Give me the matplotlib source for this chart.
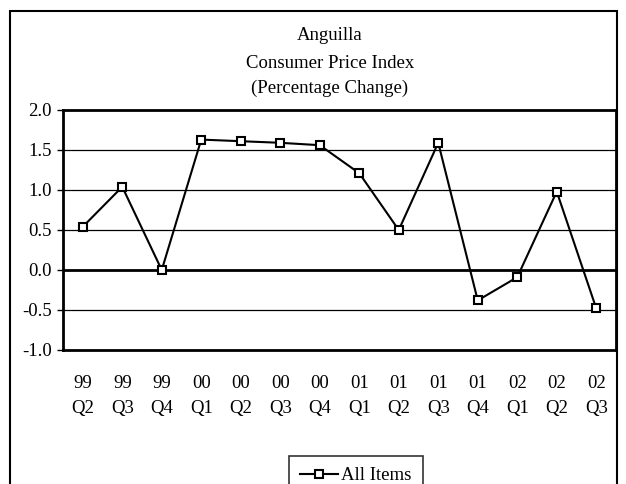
import matplotlib.pyplot as plt
from matplotlib.patches import Rectangle

plt.rcParams['font.family'] = ['Liberation Serif', 'DejaVu Serif']

years = ['99', '99', '99', '00', '00', '00', '00', '01', '01', '01', '01', '02', '02', '02']
quarters = ['Q2', 'Q3', 'Q4', 'Q1', 'Q2', 'Q3', 'Q4', 'Q1', 'Q2', 'Q3', 'Q4', 'Q1', 'Q2', 'Q3']
all_items = [0.54, 1.04, 0.0, 1.63, 1.61, 1.59, 1.56, 1.21, 0.50, 1.59, -0.38, -0.09, 0.98, -0.48]
yticks = [-1.0, -0.5, 0.0, 0.5, 1.0, 1.5, 2.0]

fs = 13.5
fig = plt.figure(figsize=(6.26, 4.84), dpi=100, facecolor='white')
fig.patches.append(Rectangle((10/626, -0.2), 607/626, 1.2 - 11/484, transform=fig.transFigure,
                             fill=False, edgecolor='black', linewidth=1.5))

ax = fig.add_axes([63/626, 134/484, 553/626, 240/484])
x = list(range(len(all_items)))
ax.plot(x, all_items, color='black', linewidth=1.5, marker='s', markersize=5.5,
        markerfacecolor='white', markeredgecolor='black', markeredgewidth=1.5, label='All Items')

ax.set_xlim(-0.5, len(all_items) - 0.5)
ax.set_ylim(-1.0, 2.0)
ax.set_yticks(yticks)
ax.set_yticklabels(['%.1f' % v for v in yticks], fontsize=fs)
for v in yticks:
    if v not in (-1.0, 2.0):
        ax.axhline(v, color='black', linewidth=2.0 if v == 0 else 0.9, zorder=1)

ax.set_xticks(x)
ax.set_xticklabels([y + '\n' + q for y, q in zip(years, quarters)], fontsize=fs, linespacing=1.65)
ax.tick_params(axis='x', length=0, pad=18)
ax.tick_params(axis='y', length=4, width=1, direction='out', pad=4)
for s in ax.spines.values():
    s.set_linewidth(2)

fig.text(330/626, 1 - 36/484, 'Anguilla', ha='center', va='center', fontsize=fs)
fig.text(330/626, 1 - 63/484, 'Consumer Price Index', ha='center', va='center', fontsize=fs)
fig.text(330/626, 1 - 88/484, '(Percentage Change)', ha='center', va='center', fontsize=fs)

leg = fig.legend(loc='upper center', bbox_to_anchor=(356/626, 1 - 456/484), fontsize=fs,
                 frameon=True, fancybox=False, edgecolor='black', handlelength=2.0,
                 borderpad=0.6, handletextpad=0.2, borderaxespad=0)
leg.get_frame().set_linewidth(1.2)

fig.savefig('out.png', dpi=100, facecolor='white')
